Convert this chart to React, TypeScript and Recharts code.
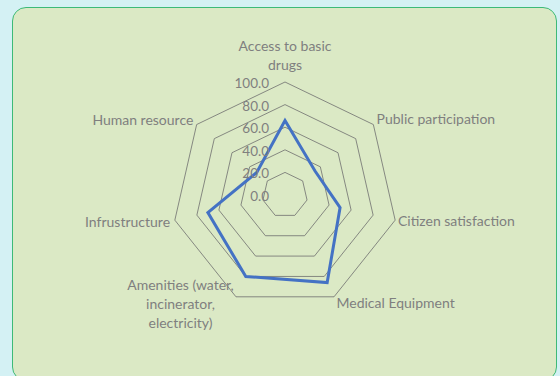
import {
  RadarChart,
  Radar,
  PolarGrid,
  PolarAngleAxis,
  PolarRadiusAxis,
} from "recharts";

const categories = [
  "Access to basic\ndrugs",
  "Public participation",
  "Citizen satisfaction",
  "Medical Equipment",
  "Amenities (water,\nincinerator,\nelectricity)",
  "Infrustructure",
  "Human resource",
];
const scores = [66, 34, 50, 86, 80, 70, 32];
const radiusTicks = [0, 20, 40, 60, 80, 100];

const data = categories.map((category, i) => ({ category, score: scores[i] }));

const FONT = "Lato, 'Open Sans', sans-serif";
const TEXT = "#7f7f7f";

// small nudges so the labels sit where the original put them
const labelNudge: Record<number, { anchor?: string; dx: number; dy: number }> = {
  0: { anchor: "middle", dx: 0, dy: -19 },
  1: { dx: -3, dy: -1 },
  2: { dx: -5, dy: -1 },
  3: { dx: -1, dy: -2 },
  4: { anchor: "middle", dx: -52, dy: -1 },
  5: { dx: 3, dy: 0 },
  6: { dx: 3, dy: 0 },
};

function AngleTick(props: any) {
  const { x, y, payload, index, textAnchor } = props;
  const lines = String(payload.value).split("\n");
  const n = labelNudge[index] || { dx: 0, dy: 0 };
  const anchor = n.anchor || textAnchor;
  const lh = 19;
  const top = y + n.dy - ((lines.length - 1) * lh) / 2;
  return (
    <g>
      {lines.map((line, i) => (
        <text
          key={i}
          x={x + n.dx}
          y={top + i * lh}
          textAnchor={anchor}
          dominantBaseline="central"
          fontFamily={FONT}
          fontSize={14}
          fill={TEXT}
        >
          {line}
        </text>
      ))}
    </g>
  );
}

function RadiusTick(props: any) {
  const { x, y, payload } = props;
  return (
    <text
      x={x - 16}
      y={y + 1}
      textAnchor="end"
      dominantBaseline="central"
      fontFamily={FONT}
      fontSize={13.5}
      fill={TEXT}
    >
      {Number(payload.value).toFixed(1)}
    </text>
  );
}

export default function App() {
  return (
    <div
      style={{
        position: "fixed",
        left: 0,
        top: 0,
        width: 560,
        height: 376,
        background: "#d4f1f4",
        overflow: "hidden",
      }}
    >
      <div
        style={{
          position: "absolute",
          left: 12,
          top: 7,
          width: 545,
          height: 374,
          boxSizing: "border-box",
          border: "1px solid #3dba78",
          borderRadius: 14,
          background: "#dbe9c5",
        }}
      />
      <div style={{ position: "absolute", left: 0, top: 0 }}>
        <RadarChart
          width={560}
          height={376}
          data={data}
          cx={285}
          cy={195}
          outerRadius={113}
          margin={{ top: 0, right: 0, bottom: 0, left: 0 }}
        >
          <PolarGrid gridType="polygon" radialLines={false} stroke="#6f6f6f" strokeWidth={0.8} />
          <PolarAngleAxis dataKey="category" tickLine={false} axisLine={false} tick={<AngleTick />} />
          <PolarRadiusAxis
            angle={90}
            domain={[0, 100]}
            ticks={radiusTicks}
            tickCount={6}
            axisLine={false}
            tickLine={false}
            tick={<RadiusTick />}
          />
          <Radar
            dataKey="score"
            stroke="#4472c4"
            strokeWidth={3}
            fill="none"
            fillOpacity={0}
            dot={false}
            isAnimationActive={false}
          />
        </RadarChart>
      </div>
    </div>
  );
}
